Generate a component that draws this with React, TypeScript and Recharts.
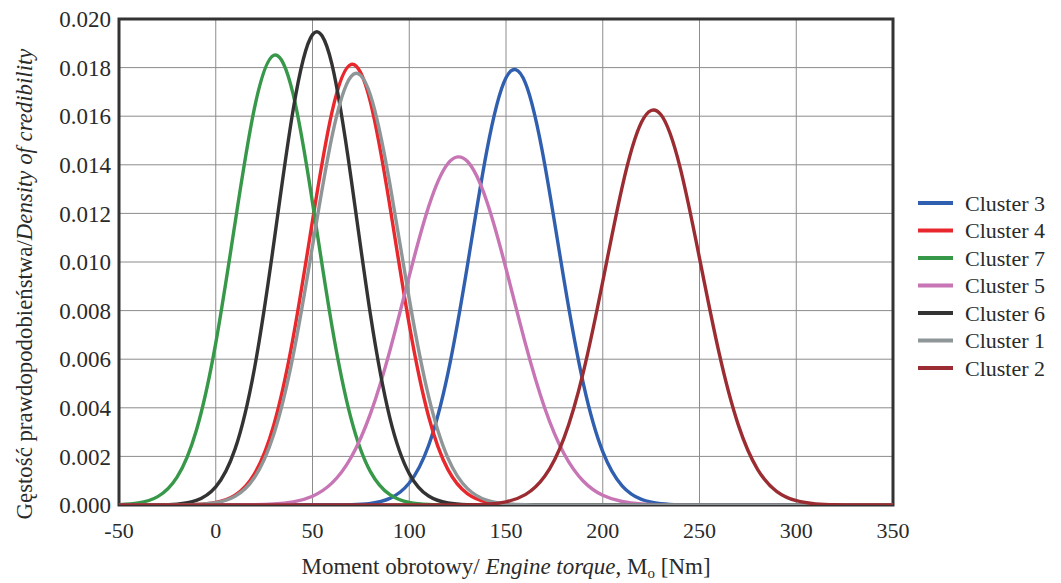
import React from "react";
import {
  LineChart,
  Line,
  XAxis,
  YAxis,
  CartesianGrid,
  ReferenceArea,
  Label,
} from "recharts";

// Engine torque [Nm], sampled every 10 Nm
const torque = [
  -50, -40, -30, -20, -10, 0, 10, 20, 30, 40, 50, 60, 70, 80, 90, 100, 110, 120,
  130, 140, 150, 160, 170, 180, 190, 200, 210, 220, 230, 240, 250, 260, 270, 280,
  290, 300, 310, 320, 330, 340, 350,
];

// Density of credibility
const cluster3 = [
  0, 0, 0, 0, 0, 0, 0, 0, 0, 0, 0, 0.000002, 0.000013, 0.000067, 0.000272,
  0.000903, 0.002449, 0.005426, 0.009827, 0.014543, 0.017582, 0.017371, 0.014023,
  0.009248, 0.004985, 0.002196, 0.00079, 0.000232, 0.000056, 0.000011, 0.000002,
  0, 0, 0, 0, 0, 0, 0, 0, 0, 0,
];
const cluster4 = [
  0, 0, 0, 0.000004, 0.000022, 0.000105, 0.000407, 0.001285, 0.003298, 0.00689,
  0.011697, 0.01615, 0.018133, 0.016556, 0.012292, 0.007421, 0.003643, 0.001455,
  0.000472, 0.000125, 0.000027, 0.000005, 0.000001, 0, 0, 0, 0, 0, 0, 0, 0, 0, 0,
  0, 0, 0, 0, 0, 0, 0, 0,
];
const cluster7 = [
  0.000016, 0.000084, 0.000345, 0.001148, 0.00308, 0.006663, 0.011619, 0.016333,
  0.018507, 0.016905, 0.012449, 0.007389, 0.003535, 0.001363, 0.000424, 0.000106,
  0.000022, 0.000003, 0, 0, 0, 0, 0, 0, 0, 0, 0, 0, 0, 0, 0, 0, 0, 0, 0, 0, 0, 0,
  0, 0, 0,
];
const cluster5 = [
  0, 0, 0, 0, 0, 0.000001, 0.000003, 0.000011, 0.00004, 0.000128, 0.000363,
  0.0009, 0.001965, 0.003769, 0.006355, 0.009421, 0.012272, 0.014053, 0.014144,
  0.012513, 0.00973, 0.006649, 0.003994, 0.002109, 0.000979, 0.000399, 0.000143,
  0.000045, 0.000013, 0.000003, 0.000001, 0, 0, 0, 0, 0, 0, 0, 0, 0, 0,
];
const cluster6 = [
  0, 0.000001, 0.000006, 0.000038, 0.000191, 0.000747, 0.002308, 0.005618,
  0.010769, 0.016264, 0.019357, 0.01815, 0.013408, 0.007804, 0.003578, 0.001293,
  0.000368, 0.000083, 0.000015, 0.000002, 0, 0, 0, 0, 0, 0, 0, 0, 0, 0, 0, 0, 0, 0,
  0, 0, 0, 0, 0, 0, 0,
];
const cluster1 = [
  0, 0, 0, 0.000004, 0.00002, 0.000094, 0.00036, 0.00113, 0.002911, 0.006152,
  0.010657, 0.015142, 0.017642, 0.016855, 0.013205, 0.008483, 0.004469, 0.001931,
  0.000684, 0.000199, 0.000047, 0.000009, 0.000001, 0, 0, 0, 0, 0, 0, 0, 0, 0, 0,
  0, 0, 0, 0, 0, 0, 0, 0,
];
const cluster2 = [
  0, 0, 0, 0, 0, 0, 0, 0, 0, 0, 0, 0, 0, 0, 0, 0, 0, 0, 0.000007, 0.000034,
  0.000131, 0.000427, 0.001181, 0.002764, 0.00548, 0.009197, 0.013076, 0.015749,
  0.016067, 0.013883, 0.010159, 0.006297, 0.003307, 0.00147, 0.000554, 0.000177,
  0.000048, 0.000011, 0.000002, 0, 0,
];

const xTicks = [-50, 0, 50, 100, 150, 200, 250, 300, 350];
const yTicks = [0, 0.002, 0.004, 0.006, 0.008, 0.01, 0.012, 0.014, 0.016, 0.018, 0.02];

const seriesNames = ["Cluster 3", "Cluster 4", "Cluster 7", "Cluster 5", "Cluster 6", "Cluster 1", "Cluster 2"];
const seriesValues = [cluster3, cluster4, cluster7, cluster5, cluster6, cluster1, cluster2];
const seriesColors = ["#2f5fae", "#e8282c", "#37984a", "#c775b4", "#333333", "#8f9698", "#9b2c31"];

const data = torque.map((t, i) => {
  const row: Record<string, number> = { torque: t };
  seriesNames.forEach((n, k) => {
    row[n] = seriesValues[k][i];
  });
  return row;
});

const FONT = '"Liberation Serif", "Times New Roman", serif';
const TEXT = "#2a2a2a";

const W = 1053;
const H = 575;

const LegendBox = () => (
  <svg
    width={148}
    height={200}
    style={{ position: "absolute", left: 905, top: 180, overflow: "visible" }}
  >
    {seriesNames.map((n, i) => (
      <g key={n}>
        <line
          x1={5}
          x2={40}
          y1={15 + i * 27.5}
          y2={15 + i * 27.5}
          stroke={seriesColors[i]}
          strokeWidth={4}
        />
        <text
          x={52}
          y={15 + i * 27.5}
          dy="0.35em"
          fontFamily={FONT}
          fontSize={22}
          fill={TEXT}
        >
          {n}
        </text>
      </g>
    ))}
  </svg>
);

export default function App() {
  return (
    <div style={{ position: "relative", width: W, height: H, background: "#fff" }}>
      <LineChart
        width={W}
        height={H}
        data={data}
        margin={{ top: 11, right: 168, bottom: 0, left: 0 }}
      >
        <CartesianGrid stroke="#8c8c8c" strokeWidth={1} />
        <XAxis
          dataKey="torque"
          type="number"
          domain={[-50, 350]}
          ticks={xTicks}
          interval={0}
          allowDataOverflow
          axisLine={false}
          tickLine={false}
          tickSize={0}
          tickMargin={17}
          height={78}
          tick={{ fontFamily: FONT, fontSize: 22, fill: TEXT }}
        >
          <Label
            content={() => (
              <text
                x={498}
                y={566}
                textAnchor="middle"
                fontFamily={FONT}
                fontSize={23}
                fill={TEXT}
              >
                <tspan>Moment obrotowy/ </tspan>
                <tspan fontStyle="italic">Engine torque</tspan>
                <tspan>, M</tspan>
                <tspan fontSize={15} dy={4}>o</tspan>
                <tspan dy={-4}> [Nm]</tspan>
              </text>
            )}
          />
        </XAxis>
        <YAxis
          type="number"
          domain={[0, 0.02]}
          ticks={yTicks}
          interval={0}
          allowDataOverflow
          axisLine={false}
          tickLine={false}
          tickSize={0}
          tickMargin={8}
          width={111}
          tickFormatter={(v: number) => v.toFixed(3)}
          tick={{ fontFamily: FONT, fontSize: 23, fill: TEXT }}
        >
          <Label
            content={() => (
              <text
                x={16}
                y={276}
                textAnchor="middle"
                dominantBaseline="central"
                transform="rotate(-90 16 276)"
                fontFamily={FONT}
                fontSize={22.8}
                fill={TEXT}
              >
                <tspan>Gęstość prawdopodobieństwa/</tspan>
                <tspan fontStyle="italic">Density of credibility</tspan>
              </text>
            )}
          />
        </YAxis>
        <ReferenceArea
          x1={-50}
          x2={350}
          y1={0}
          y2={0.02}
          fill="none"
          stroke="#333333"
          strokeWidth={3}
          ifOverflow="visible"
        />
        {seriesNames.map((n, i) => (
          <Line
            key={n}
            dataKey={n}
            type="natural"
            stroke={seriesColors[i]}
            strokeWidth={3.4}
            dot={false}
            activeDot={false}
            isAnimationActive={false}
          />
        ))}
      </LineChart>
      <LegendBox />
    </div>
  );
}
